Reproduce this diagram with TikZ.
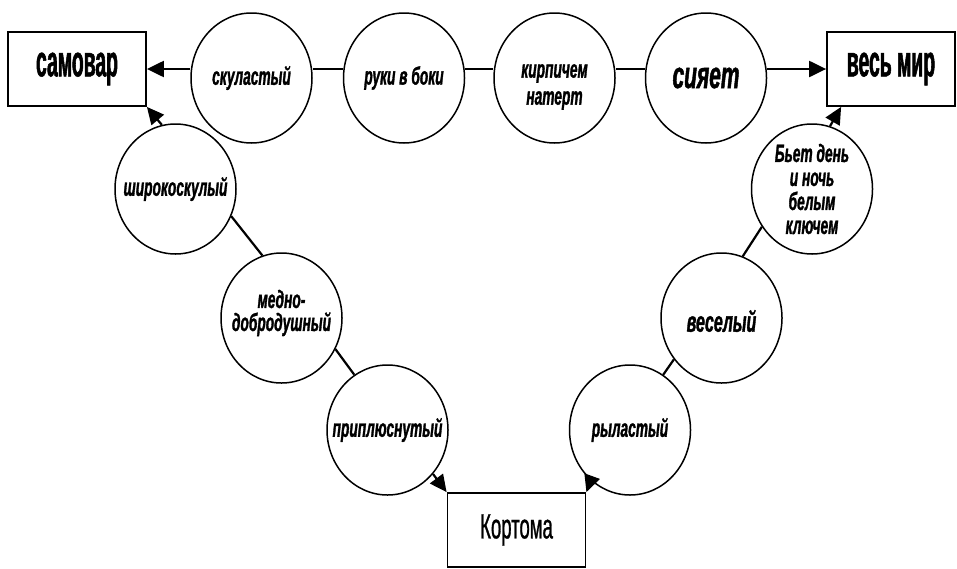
\documentclass[tikz,border=0pt]{standalone}
\usepackage{fontspec}
\usetikzlibrary{shapes.geometric,arrows.meta}
\newfontfamily\circfont[FakeStretch=0.55,FakeBold=1.2]{Liberation Sans Bold Italic}
\newfontfamily\boxfontA[FakeStretch=0.44,FakeBold=1.2]{Liberation Sans Bold}
\newfontfamily\kortfont[FakeStretch=0.53,FakeBold=0.8]{Liberation Sans}
\tikzset{
  circ/.style={draw, line width=1.5pt, shape=ellipse, minimum width=121pt, minimum height=130pt, inner sep=0pt},
  ctext/.style={font=\circfont\fontsize{25}{25}\selectfont, align=center, inner sep=0pt},
  bigtext/.style={font=\circfont\fontsize{38}{38}\selectfont, align=center, inner sep=0pt},
  boxn/.style={draw, line width=1.8pt, minimum width=138pt, minimum height=74pt, inner sep=0pt, font=\boxfontA\fontsize{44}{44}\selectfont},
  conn/.style={line width=2.2pt},
  arr/.style={line width=2.2pt, -{Triangle[length=17pt,width=16pt]}}
}
\begin{document}
\begin{tikzpicture}[x=1pt,y=-1pt]
\useasboundingbox (0,0) rectangle (957,568);
% boxes
\node[boxn] (sam) at (77,69) {самовар};
\node[boxn, minimum width=128pt] (wm) at (891,69) {весь мир};
\node[boxn, font=\kortfont\fontsize{35}{35}\selectfont] (kort) at (516.5,530) {Кортома};
% top row
\node[circ, label={[ctext]center:скуластый}] (sk) at (251.5,78) {};
\node[circ, label={[ctext]center:руки в боки}] (ru) at (404,78) {};
\node[circ, label={[ctext, yshift=-9pt]center:{кирпичем\\[2pt]натерт}}] (ki) at (554.5,78) {};
\node[circ, label={[bigtext]center:сияет}] (si) at (706,78) {};
% left diagonal
\node[circ, label={[ctext]center:широкоскулый}] (sh) at (175.5,189) {};
\node[circ, label={[ctext, yshift=5pt]center:{медно-\\[-2pt]добродушный}}] (me) at (281.5,318) {};
\node[circ, label={[ctext]center:приплюснутый}] (pr) at (387.5,430) {};
% right diagonal
\node[circ, label={[ctext]center:{Бьет день\\[-1pt]и ночь\\[-1pt]белым\\[-1pt]ключем}}] (bd) at (812,189) {};
\node[circ, label={[ctext, font=\circfont\fontsize{29}{29}\selectfont, yshift=-3pt]center:веселый}] (ve) at (721.5,318) {};
\node[circ, label={[ctext]center:рыластый}] (ry) at (630,430) {};
% connectors top
\draw[arr] (sk.west |- sam.east) -- (sam.east);
\draw[conn] (sk.east |- sam.east) -- (ru.west |- sam.east);
\draw[conn] (ru.east |- sam.east) -- (ki.west |- sam.east);
\draw[conn] (ki.east |- sam.east) -- (si.west |- sam.east);
\draw[arr] (si.east |- wm.west) -- (wm.west);
% left chain
\draw[arr] (sh.102) -- (sam.south east);
\draw[conn] (sh.-26) -- (me.107);
\draw[conn] (me.-30) -- (pr.121);
\draw[arr] (pr.-44) -- (kort.north west);
% right chain
\draw[arr] (ry.232) -- (kort.north east);
\draw[conn] (ry.59) -- (ve.221);
\draw[conn] (ve.71) -- (bd.217);
\coordinate (wmend) at ([xshift=15pt]wm.south west);
\draw[arr] (bd.74) -- (wmend);
\end{tikzpicture}
\end{document}
